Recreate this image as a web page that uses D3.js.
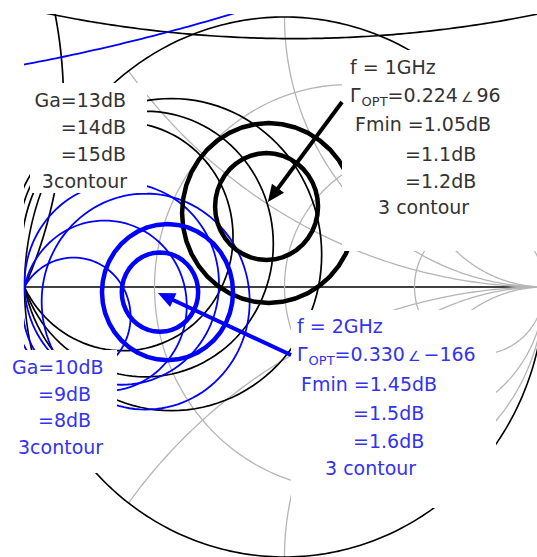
<!DOCTYPE html>
<html><head><meta charset="utf-8">
<script src="https://cdn.jsdelivr.net/npm/d3@7"></script>
<style>body{margin:0;background:#fff}svg{display:block}</style>
</head><body>
<svg id="chart" width="537" height="557"></svg>
<script>
// ---------- data (reflection-coefficient plane, Γ = u + jv) ----------
const resistanceGrid = [1/3, 1, 3];
const reactanceGrid = [0.5, 1, 2, -0.5, -1, -2];

// noise circles  [u, v, radius]
const noise1GHz = [[-0.069, 0.298, 0.198], [-0.061, 0.274, 0.333]];
const noise2GHz = [[-0.479, -0.019, 0.147], [-0.450, -0.019, 0.252]];
// optimum source reflection points (arrow tips)
const gammaOpt1GHz = [-0.064, 0.315];
const gammaOpt2GHz = [-0.487, -0.022];
// available gain circles  [u, v, radius]
const gain1GHz = [[-0.621, 0.187, 0.423], [-0.535, 0.159, 0.492], [-0.435, 0.120, 0.578],
                  [0.036, 5.80, 4.88], [-2.497, 0.686, 1.647]];
const gain2GHz = [[-0.811, -0.110, 0.219], [-0.692, -0.070, 0.316], [-0.534, -0.054, 0.400],
                  [-0.626, 0.012, 0.374], [-2.436, 8.74, 8.045]];

// labels
const labels1 = ["Ga=13dB", "=14dB", "=15dB", "3contour"];
const labels2 = ["f = 1GHz", "ΓOPT=0.224∠96", "Fmin =1.05dB", "=1.1dB", "=1.2dB", "3 contour"];
const labels3 = ["Ga=10dB", "=9dB", "=8dB", "3contour"];
const labels4 = ["f = 2GHz", "ΓOPT=0.330∠−166", "Fmin =1.45dB", "=1.5dB", "=1.6dB", "3 contour"];

// ---------- drawing ----------
const svg = d3.select("#chart");
const W = 537, H = 557;
const sx = d3.scaleLinear().domain([-1, 1]).range([24.5, 544.5]);
const sy = d3.scaleLinear().domain([-1, 1]).range([557, 17]);
const BLACK = "#000", BLUE = "#0000ff", GREY = "#b5b5b5";
const TXT = "#333", TXTB = "#3333ee";

const line = d3.line().x(p => sx(p[0])).y(p => sy(p[1]));
function circlePath(u, v, r, n) {
  const pts = d3.range(n).map(i => {
    const t = 2 * Math.PI * i / n;
    return [u + r * Math.cos(t), v + r * Math.sin(t)];
  });
  return line.curve(d3.curveLinearClosed)(pts);
}

const defs = svg.append("defs");
defs.append("clipPath").attr("id", "unit").append("path").attr("d", circlePath(0, 0, 1, 360));
defs.append("clipPath").attr("id", "view").append("rect")
  .attr("x", 24).attr("y", 14).attr("width", W - 24).attr("height", H - 14);

// real axis
svg.append("line").attr("x1", sx(-1)).attr("x2", sx(1)).attr("y1", sy(0)).attr("y2", sy(0))
  .attr("stroke", BLACK).attr("stroke-width", 1.5);

// grid
const grid = svg.append("g").attr("clip-path", "url(#unit)").attr("fill", "none")
  .attr("stroke", GREY).attr("stroke-width", 1.3);
resistanceGrid.forEach(r => grid.append("path").attr("d", circlePath(r / (1 + r), 0, 1 / (1 + r), 240)));
reactanceGrid.forEach(x => grid.append("path").attr("d", circlePath(1, 1 / x, 1 / Math.abs(x), 720)));

// outer boundary
svg.append("path").attr("d", circlePath(0, 0, 1, 360)).attr("fill", "none")
  .attr("stroke", BLACK).attr("stroke-width", 1.6);

const data = svg.append("g").attr("clip-path", "url(#view)").attr("fill", "none");
gain1GHz.forEach(c => data.append("path").attr("d", circlePath(c[0], c[1], c[2], c[2] > 1 ? 2000 : 120))
  .attr("stroke", BLACK).attr("stroke-width", 1.7));
gain2GHz.forEach(c => data.append("path").attr("d", circlePath(c[0], c[1], c[2], c[2] > 1 ? 3000 : 120))
  .attr("stroke", BLUE).attr("stroke-width", 1.8));
noise1GHz.forEach(c => data.append("path").attr("d", circlePath(c[0], c[1], c[2], 40))
  .attr("stroke", BLACK).attr("stroke-width", 4.5).attr("stroke-linejoin", "round"));
noise2GHz.forEach(c => data.append("path").attr("d", circlePath(c[0], c[1], c[2], 40))
  .attr("stroke", BLUE).attr("stroke-width", 4.5).attr("stroke-linejoin", "round"));

function arrow(x0, y0, tip, color) {
  const x1 = sx(tip[0]), y1 = sy(tip[1]);
  const dx = x1 - x0, dy = y1 - y0, L = Math.hypot(dx, dy);
  const ux = dx / L, uy = dy / L, hl = 17, hw = 7.5;
  const bx = x1 - ux * hl, by = y1 - uy * hl;
  svg.append("line").attr("x1", x0).attr("y1", y0).attr("x2", bx + ux * 2).attr("y2", by + uy * 2)
    .attr("stroke", color).attr("stroke-width", 4);
  svg.append("path").attr("d", `M${x1},${y1}L${bx - uy * hw},${by + ux * hw}L${bx + uy * hw},${by - ux * hw}Z`)
    .attr("fill", color);
}

// white label backgrounds
[[30, 83, 117, 110], [342, 50, 200, 201], [0, 350, 117, 123], [291, 310, 205, 198]].forEach(b =>
  svg.append("rect").attr("x", b[0]).attr("y", b[1]).attr("width", b[2]).attr("height", b[3]).attr("fill", "#fff"));

arrow(342, 102, gammaOpt1GHz, BLACK);
arrow(291, 355, gammaOpt2GHz, BLUE);

function label(txt, x, y, color, anchor) {
  const t = svg.append("text").attr("x", x).attr("y", y).attr("fill", color)
    .attr("font-family", "DejaVu Sans, sans-serif").attr("font-size", 19)
    .attr("text-anchor", anchor || "start");
  if (txt.startsWith("ΓOPT")) {
    const parts = txt.slice(4).split("∠");
    t.append("tspan").text("Γ");
    t.append("tspan").text("OPT").attr("font-size", 13).attr("dy", 4).attr("dx", 1);
    t.append("tspan").text(parts[0]).attr("dy", -4);
    t.append("tspan").text("∠").attr("font-size", 14).attr("dx", 3);
    t.append("tspan").text(parts[1]).attr("dx", 3);
  } else t.text(txt);
}
const pos1 = [[126, 107], [126, 134], [126, 161], [127, 188]];
labels1.forEach((s, i) => label(s, pos1[i][0], pos1[i][1], TXT, "end"));
const pos2 = [[350, 74], [350, 102], [355, 131], [405, 161], [405, 188], [378, 214]];
labels2.forEach((s, i) => label(s, pos2[i][0], pos2[i][1], TXT));
const pos3 = [[12, 374], [38, 401], [38, 427], [18, 454]];
labels3.forEach((s, i) => label(s, pos3[i][0], pos3[i][1], TXTB));
const pos4 = [[297, 333], [297, 361], [301, 391], [353, 420], [353, 448], [325, 475]];
labels4.forEach((s, i) => label(s, pos4[i][0], pos4[i][1], TXTB));
</script>
</body></html>
